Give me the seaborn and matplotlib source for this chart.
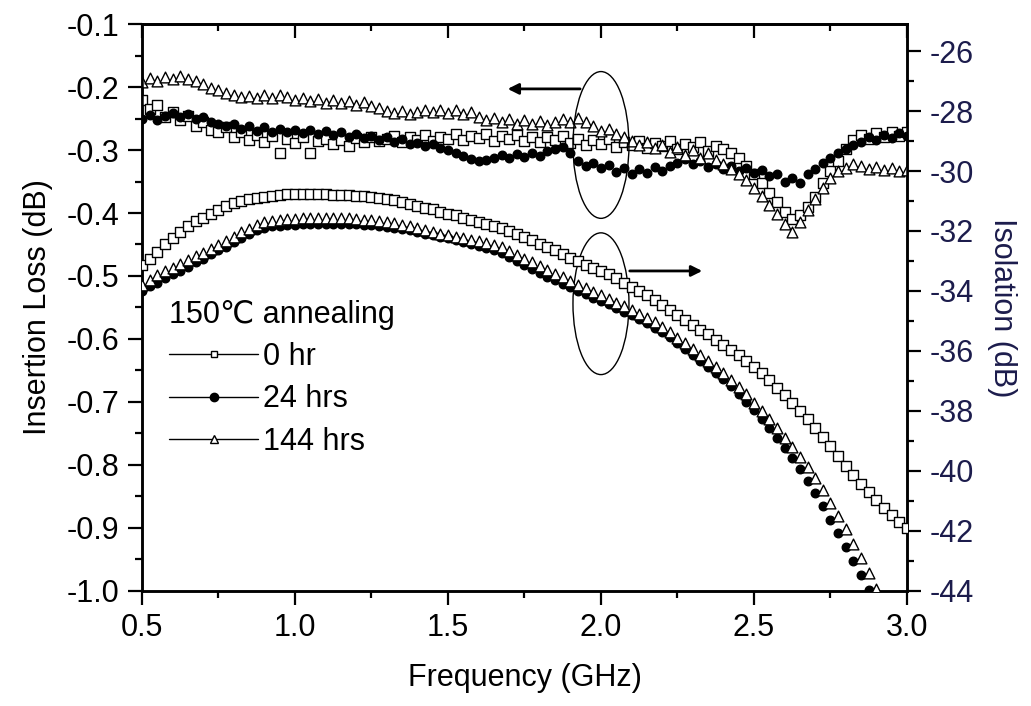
import numpy as np
import matplotlib
matplotlib.use('Agg')
import matplotlib.pyplot as plt
from matplotlib.lines import Line2D
from matplotlib.patches import Ellipse
from matplotlib.ticker import MultipleLocator
import seaborn as sns

sns.set_style("ticks")
plt.rcParams['font.family'] = ['Liberation Sans', 'DejaVu Sans']
plt.rcParams['axes.unicode_minus'] = False
plt.rcParams['text.color'] = 'black'
plt.rcParams['axes.labelcolor'] = 'black'
plt.rcParams['xtick.color'] = 'black'
plt.rcParams['ytick.color'] = 'black'

# frequency sweep (GHz), 0.025 GHz step
freq = np.linspace(0.5, 3.0, 101)

# insertion loss (dB), left axis
il_0hr = [
    -0.220, -0.235, -0.228, -0.248, -0.240, -0.252, -0.246, -0.262, -0.256, -0.268,
    -0.272, -0.263, -0.279, -0.271, -0.284, -0.276, -0.287, -0.278, -0.305, -0.283,
    -0.289, -0.280, -0.304, -0.286, -0.282, -0.291, -0.284, -0.293, -0.281, -0.288,
    -0.279, -0.286, -0.282, -0.277, -0.288, -0.280, -0.284, -0.276, -0.286, -0.279,
    -0.282, -0.274, -0.284, -0.277, -0.281, -0.275, -0.286, -0.278, -0.283, -0.276,
    -0.285, -0.279, -0.287, -0.280, -0.284, -0.278, -0.289, -0.282, -0.292, -0.284,
    -0.290, -0.283, -0.295, -0.287, -0.292, -0.285, -0.297, -0.289, -0.293, -0.286,
    -0.298, -0.290, -0.296, -0.288, -0.301, -0.293, -0.299, -0.304, -0.312, -0.325,
    -0.338, -0.352, -0.368, -0.382, -0.398, -0.410, -0.403, -0.390, -0.374, -0.352,
    -0.334, -0.318, -0.298, -0.284, -0.276, -0.282, -0.273, -0.280, -0.271, -0.278,
    -0.272]
il_24hrs = [
    -0.250, -0.244, -0.252, -0.246, -0.241, -0.248, -0.243, -0.250, -0.247, -0.255,
    -0.258, -0.262, -0.258, -0.266, -0.262, -0.270, -0.264, -0.271, -0.266, -0.272,
    -0.268, -0.273, -0.269, -0.275, -0.270, -0.276, -0.272, -0.279, -0.274, -0.281,
    -0.277, -0.284, -0.280, -0.287, -0.283, -0.291, -0.289, -0.294, -0.291, -0.297,
    -0.300, -0.305, -0.310, -0.314, -0.318, -0.316, -0.313, -0.308, -0.312, -0.306,
    -0.311, -0.305, -0.309, -0.302, -0.298, -0.295, -0.305, -0.318, -0.325, -0.320,
    -0.329, -0.324, -0.335, -0.328, -0.338, -0.330, -0.336, -0.327, -0.334, -0.326,
    -0.320, -0.314, -0.322, -0.317, -0.327, -0.322, -0.330, -0.325, -0.333, -0.328,
    -0.337, -0.332, -0.342, -0.338, -0.350, -0.345, -0.352, -0.338, -0.330, -0.320,
    -0.312, -0.304, -0.298, -0.292, -0.288, -0.280, -0.284, -0.276, -0.281, -0.273,
    -0.278]
il_144hrs = [
    -0.192, -0.186, -0.190, -0.184, -0.188, -0.182, -0.187, -0.191, -0.196, -0.201,
    -0.205, -0.209, -0.212, -0.216, -0.214, -0.218, -0.213, -0.217, -0.212, -0.216,
    -0.220, -0.218, -0.223, -0.219, -0.225, -0.221, -0.226, -0.222, -0.228, -0.224,
    -0.230, -0.233, -0.238, -0.242, -0.238, -0.243, -0.239, -0.236, -0.240, -0.236,
    -0.241, -0.237, -0.243, -0.239, -0.247, -0.252, -0.249, -0.256, -0.251, -0.258,
    -0.253, -0.259, -0.254, -0.260, -0.256, -0.250, -0.255, -0.249, -0.256, -0.262,
    -0.270, -0.266, -0.275, -0.280, -0.285, -0.292, -0.288, -0.297, -0.292, -0.303,
    -0.296, -0.308, -0.300, -0.312, -0.304, -0.316, -0.322, -0.330, -0.338, -0.348,
    -0.360, -0.373, -0.388, -0.402, -0.418, -0.430, -0.415, -0.396, -0.378, -0.360,
    -0.345, -0.334, -0.328, -0.322, -0.325, -0.330, -0.327, -0.332, -0.329, -0.334,
    -0.331]

# isolation (dB), right axis
iso_0hr = [
    -33.15, -32.95, -32.70, -32.45, -32.25, -32.05, -31.85, -31.68, -31.55, -31.42,
    -31.30, -31.18, -31.08, -31.00, -30.94, -30.90, -30.86, -30.82, -30.79, -30.77,
    -30.76, -30.75, -30.76, -30.78, -30.78, -30.79, -30.80, -30.81, -30.82, -30.84,
    -30.86, -30.89, -30.92, -30.97, -31.03, -31.09, -31.16, -31.22, -31.28, -31.35,
    -31.42, -31.48, -31.55, -31.62, -31.69, -31.76, -31.83, -31.91, -32.00, -32.10,
    -32.20, -32.31, -32.42, -32.53, -32.65, -32.77, -32.89, -33.01, -33.12, -33.22,
    -33.32, -33.45, -33.58, -33.72, -33.86, -34.00, -34.14, -34.30, -34.46, -34.62,
    -34.79, -34.96, -35.12, -35.29, -35.45, -35.62, -35.79, -35.96, -36.13, -36.32,
    -36.52, -36.75, -36.98, -37.22, -37.47, -37.73, -38.00, -38.28, -38.58, -38.88,
    -39.18, -39.50, -39.82, -40.12, -40.42, -40.70, -40.98, -41.24, -41.48, -41.70,
    -41.90]
iso_24hrs = [
    -34.00, -33.85, -33.72, -33.58, -33.45, -33.32, -33.19, -33.05, -32.92, -32.78,
    -32.65, -32.52, -32.38, -32.24, -32.10, -31.98, -31.90, -31.85, -31.82, -31.80,
    -31.79, -31.78, -31.77, -31.77, -31.76, -31.76, -31.76, -31.76, -31.77, -31.79,
    -31.81, -31.83, -31.86, -31.89, -31.93, -31.98, -32.04, -32.10, -32.15, -32.20,
    -32.25, -32.31, -32.37, -32.43, -32.50, -32.57, -32.65, -32.75, -32.87, -33.00,
    -33.13, -33.26, -33.39, -33.52, -33.64, -33.76, -33.88, -34.00, -34.11, -34.22,
    -34.33, -34.45, -34.57, -34.69, -34.81, -34.94, -35.07, -35.22, -35.38, -35.55,
    -35.73, -35.92, -36.12, -36.33, -36.53, -36.73, -36.94, -37.18, -37.43, -37.70,
    -37.98, -38.27, -38.58, -38.90, -39.23, -39.57, -39.93, -40.32, -40.74, -41.18,
    -41.62, -42.07, -42.53, -43.00, -43.48, -43.96, -44.45, np.nan, np.nan, np.nan,
    np.nan]
iso_144hrs = [
    -33.80, -33.62, -33.48, -33.35, -33.22, -33.10, -32.98, -32.85, -32.73, -32.60,
    -32.48, -32.34, -32.20, -32.05, -31.92, -31.80, -31.71, -31.66, -31.62, -31.60,
    -31.59, -31.58, -31.58, -31.57, -31.57, -31.57, -31.58, -31.58, -31.60, -31.62,
    -31.64, -31.67, -31.70, -31.74, -31.79, -31.85, -31.91, -31.97, -32.03, -32.09,
    -32.15, -32.20, -32.25, -32.30, -32.35, -32.40, -32.46, -32.55, -32.66, -32.79,
    -32.92, -33.05, -33.18, -33.31, -33.43, -33.55, -33.67, -33.79, -33.91, -34.03,
    -34.15, -34.27, -34.39, -34.51, -34.63, -34.76, -34.90, -35.05, -35.21, -35.38,
    -35.56, -35.74, -35.93, -36.13, -36.33, -36.52, -36.73, -36.96, -37.20, -37.45,
    -37.72, -38.00, -38.28, -38.58, -38.89, -39.20, -39.53, -39.88, -40.25, -40.65,
    -41.07, -41.50, -41.95, -42.42, -42.90, -43.40, -43.92, -44.45, np.nan, np.nan,
    np.nan]

series_labels = ['0 hr', '24 hrs', '144 hrs']
legend_title = '150\u2103 annealing'

fig = plt.figure(figsize=(10.31, 7.06), dpi=100)
ax = fig.add_axes([0.1377, 0.1629, 0.742, 0.8031])
ax2 = ax.twinx()

styles = [
    dict(marker='s', facecolor='white', edgecolor='black', s=52, linewidth=1.0),
    dict(marker='o', facecolor='black', edgecolor='black', s=38, linewidth=1.0),
    dict(marker='^', facecolor='white', edgecolor='black', s=60, linewidth=1.0),
]

for y, st in zip([il_0hr, il_24hrs, il_144hrs], styles):
    sns.scatterplot(x=freq, y=y, ax=ax, legend=False, zorder=3, **st)
for y, st in zip([iso_0hr, iso_24hrs, iso_144hrs], styles):
    sns.scatterplot(x=freq, y=y, ax=ax2, legend=False, zorder=3, **st)

ax.set_xlim(0.5, 3.0)
ax.set_ylim(-1.0, -0.1)
ax2.set_ylim(-44, -25.1)

ax.xaxis.set_major_locator(MultipleLocator(0.5))
ax.xaxis.set_minor_locator(MultipleLocator(0.25))
ax.yaxis.set_major_locator(MultipleLocator(0.1))
ax.yaxis.set_minor_locator(MultipleLocator(0.05))
ax2.yaxis.set_major_locator(MultipleLocator(2))
ax2.yaxis.set_minor_locator(MultipleLocator(1))
ax.xaxis.set_major_formatter(plt.FuncFormatter(lambda v, p: f'{v:.1f}'))
ax.yaxis.set_major_formatter(plt.FuncFormatter(lambda v, p: f'{v:.1f}'))

ax.tick_params(axis='both', which='major', direction='out', length=10, width=1.6,
               labelsize=22, pad=6)
ax.tick_params(axis='both', which='minor', direction='out', length=5, width=1.6)
ax2.tick_params(axis='y', which='major', direction='out', length=10, width=1.6,
                labelsize=22, pad=6, labelcolor='#1c1c4c')
ax2.tick_params(axis='y', which='minor', direction='out', length=5, width=1.6)

top = ax.secondary_xaxis('top')
top.xaxis.set_major_locator(MultipleLocator(0.5))
top.xaxis.set_minor_locator(MultipleLocator(0.25))
top.tick_params(which='major', direction='in', length=10, width=1.6, labeltop=False)
top.tick_params(which='minor', direction='in', length=5, width=1.6)

for a in (ax, ax2, top):
    for sp in a.spines.values():
        sp.set_linewidth(1.8)
        sp.set_color('black')

ax.set_xlabel('Frequency (GHz)', fontsize=22, labelpad=14)
ax.set_ylabel('Insertion Loss (dB)', fontsize=22, labelpad=10)
ax2.set_ylabel('Isolation (dB)', fontsize=22, rotation=270, va='bottom',
               labelpad=10, color='#1c1c4c')

# ellipses grouping the two sets of curves, with arrows to their axes
ax.add_patch(Ellipse((2.0, -0.292), 0.183, 0.233, fill=False, lw=1.0, ec='black', zorder=4))
ax.add_patch(Ellipse((2.0, -0.544), 0.183, 0.225, fill=False, lw=1.0, ec='black', zorder=4))
ax.annotate('', xy=(1.686, -0.203), xytext=(1.941, -0.203),
            arrowprops=dict(arrowstyle='-|>', color='black', lw=2, mutation_scale=16))
ax.annotate('', xy=(2.34, -0.492), xytext=(2.085, -0.492),
            arrowprops=dict(arrowstyle='-|>', color='black', lw=2, mutation_scale=16))

handles = [
    Line2D([0], [0], color='black', lw=1, marker='s', mfc='white', mec='black', ms=5),
    Line2D([0], [0], color='black', lw=1, marker='o', mfc='black', mec='black', ms=6),
    Line2D([0], [0], color='black', lw=1, marker='^', mfc='white', mec='black', ms=6),
]
leg = ax2.legend(handles, series_labels, title=legend_title, loc='upper left',
                 bbox_to_anchor=(0.02, 0.535), frameon=False, fontsize=22,
                 title_fontsize=22, handlelength=2.9, handletextpad=0.15,
                 labelspacing=0.4, borderaxespad=0, alignment='left')

fig.savefig('out.png', dpi=100)
